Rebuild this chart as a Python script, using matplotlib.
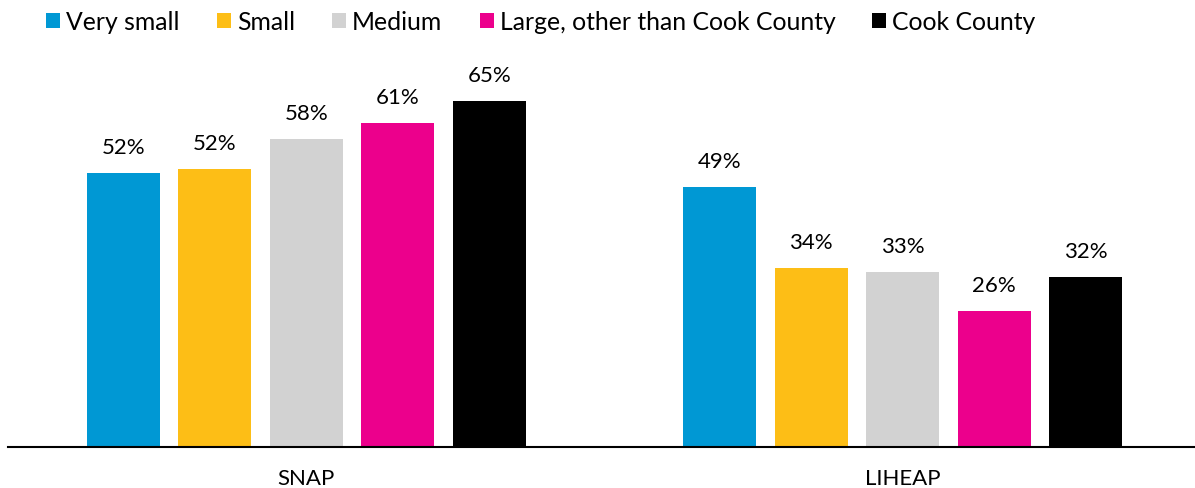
import numpy as np
import matplotlib
matplotlib.use("Agg")
import matplotlib.pyplot as plt

plt.rcParams['font.family'] = ['Lato', 'DejaVu Sans']

programs = ["SNAP", "LIHEAP"]
sizes = ["Very small", "Small", "Medium", "Large, other than Cook County", "Cook County"]
# percent of households per county size, one list per size class (SNAP, LIHEAP)
very_small = [51.6, 49.0]
small = [52.4, 33.6]
medium = [58.0, 33.0]
large = [61.0, 25.6]
cook = [65.2, 32.0]

colors = ["#0098D4", "#FDBE16", "#D2D2D2", "#EC008C", "#000000"]


def main():
    fig = plt.figure(figsize=(11.95, 4.89), dpi=100)
    ax = fig.add_axes([8 / 1195, 41 / 489, 1 - 8 / 1195, 372 / 489])

    x = np.arange(len(programs))
    step = 0.1535
    width = 0.1225
    series = [very_small, small, medium, large, cook]

    for i, (vals, name, col) in enumerate(zip(series, sizes, colors)):
        pos = x + (i - 2) * step
        bars = ax.bar(pos, vals, width, color=col, label=name)
        for b, v in zip(bars, vals):
            ax.text(b.get_x() + b.get_width() / 2, v + 3.0, f"{v:.0f}%",
                    ha="center", va="bottom", fontsize=16)

    ax.set_xlim(-0.5, 1.49)
    ax.set_ylim(0, 70)
    ax.set_yticks([])
    ax.set_xticks(x)
    ax.set_xticklabels(programs, fontsize=16)
    ax.tick_params(axis="x", length=0, pad=15)
    for s in ["top", "right", "left"]:
        ax.spines[s].set_visible(False)
    ax.spines["bottom"].set_linewidth(1.5)

    fig.legend(loc="center", bbox_to_anchor=(0.4527, 0.953), ncol=5, frameon=False,
               fontsize=17.8, handlelength=0.57, handleheight=0.57,
               handletextpad=0.24, columnspacing=1.5)

    fig.savefig("out.png", dpi=100)


if __name__ == "__main__":
    main()
